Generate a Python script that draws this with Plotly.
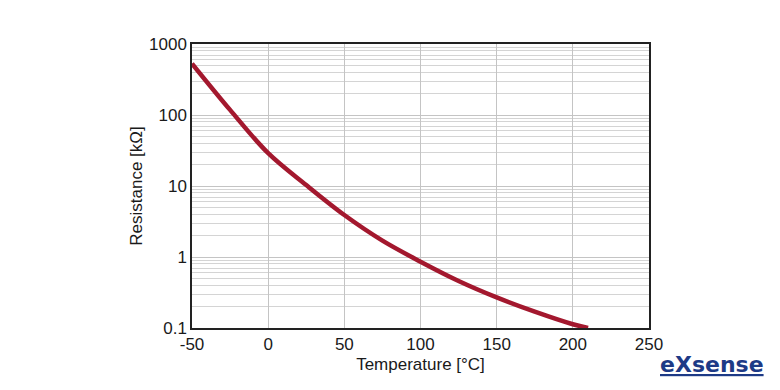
import plotly.graph_objects as go

temperature = [-50, -25, 0, 25, 50, 75, 100, 125, 150, 175, 200, 210]
resistance = [530, 118, 29, 10.3, 3.9, 1.7, 0.86, 0.46, 0.27, 0.17, 0.113, 0.1]
x_ticks = [-50, 0, 50, 100, 150, 200, 250]
x_tick_text = ["-50", "0", "50", "100", "150", "200", "250"]
y_ticks = [0.1, 1, 10, 100, 1000]
y_tick_text = ["0.1", "1", "10", "100", "1000"]

fig = go.Figure()
fig.add_trace(go.Scatter(
    x=temperature, y=resistance, mode="lines",
    line=dict(color="#a3182e", width=4.5, shape="spline", smoothing=1.0),
    showlegend=False, hoverinfo="skip"))

font = "Liberation Sans, Arial, sans-serif"
fig.update_layout(
    width=780, height=390,
    margin=dict(l=184, r=139, t=36, b=70),
    paper_bgcolor="white", plot_bgcolor="white",
    font=dict(family=font, size=17, color="#1a1a1a"),
    xaxis=dict(range=[-50, 250], tickvals=x_ticks, ticktext=x_tick_text, showgrid=True,
               gridcolor="#c4c4c4", gridwidth=1, showline=True,
               linecolor="#222", linewidth=1.5, mirror=True, ticks="",
               zeroline=False, tickfont=dict(size=17),
               title=dict(text="Temperature [°C]", standoff=5, font=dict(size=17))),
    yaxis=dict(type="log", range=[-1, 3], tickvals=y_ticks, ticktext=y_tick_text,
               showgrid=True, gridcolor="#c4c4c4", showline=True,
               linecolor="#222", linewidth=1.5, mirror=True, ticks="",
               minor=dict(dtick="D1", showgrid=True, gridcolor="#d4d4d4", gridwidth=1),
               zeroline=False, tickfont=dict(size=17),
               title=dict(text="Resistance [kΩ]", standoff=2, font=dict(size=17))),
)

fig.add_annotation(xref="paper", yref="paper", x=1.255, y=-0.13,
                   text="<b><u>eXsense</u></b>", showarrow=False,
                   font=dict(family="DejaVu Sans, sans-serif", size=22, color="#1d3a86"),
                   xanchor="right", yanchor="middle")

fig.write_html("out.html")
